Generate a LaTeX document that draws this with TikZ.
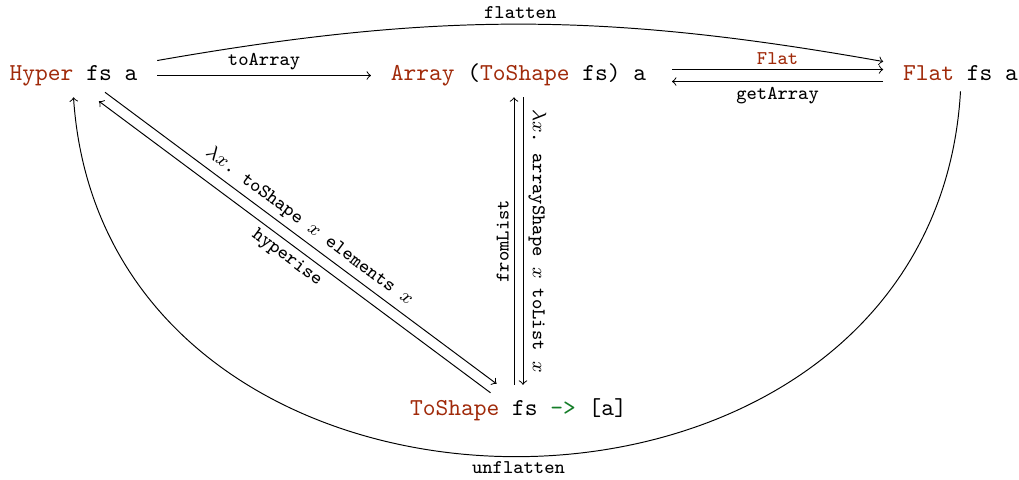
\documentclass[tikz,border=0pt]{standalone}
\definecolor{tycon}{RGB}{160,42,10}
\definecolor{opgreen}{RGB}{20,125,40}
\begin{document}
\begin{tikzpicture}[x=0.4115pt, y=-0.4115pt,
  obj/.style={font=\ttfamily, anchor=base, inner xsep=8pt, inner ysep=4pt,
              text height=7pt, text depth=2.5pt},
  lbl/.style={font=\fontsize{8}{10}\selectfont\ttfamily, inner sep=2pt},
  link/.style={->, line width=0.4pt}]
\useasboundingbox (0,0) rectangle (1019,480);

% objects
\node[obj] (hyp)  at (73.5,81)  {\textcolor{tycon}{Hyper} fs a};
\node[obj] (arry) at (518.5,81) {\textcolor{tycon}{Array} (\textcolor{tycon}{ToShape} fs) a};
\node[obj] (flat) at (960.5,81) {\textcolor{tycon}{Flat} fs a};
\node[obj] (tos)  at (518.5,415) {\textcolor{tycon}{ToShape} fs \textcolor{opgreen}{->} [a]};

% top row
\draw[link] (hyp.east) -- node[lbl, above] {toArray} (arry.west);
\draw[link] ([shift={(0,-15)}]hyp.east) to[bend left=10]
  node[lbl, above] {flatten} ([shift={(0,-14)}]flat.west);
\draw[link] ([shift={(6,-6)}]arry.east) --
  node[lbl, above, text=tycon] {Flat} ([shift={(0,-6)}]flat.west);
\draw[link] ([shift={(0,6)}]flat.west) --
  node[lbl, below] {getArray} ([shift={(6,6)}]arry.east);

% vertical pair
\draw[link] ([shift={(-4.5,-3)}]tos.north) --
  node[lbl, rotate=90, anchor=south] {fromList} ([shift={(-4.5,0)}]arry.south);
\draw[link] ([shift={(4.5,0)}]arry.south) --
  node[lbl, rotate=-90, anchor=south] {$\lambda x$.\ arrayShape $x$ toList $x$}
  ([shift={(4.5,-3)}]tos.north);

% diagonal pair
\draw[link] ([shift={(31.5,-5)}]hyp.south) --
  node[lbl, sloped, above] {$\lambda x$.\ toShape $x$ elements $x$}
  ([shift={(-22,-4)}]tos.north);
\draw[link] ([shift={(-28,5)}]tos.north) --
  node[lbl, sloped, below] {hyperise} ([shift={(25.5,4)}]hyp.south);

% long way round
\draw[link] ([shift={(0,-6)}]flat.south) .. controls +(-28,486) and +(32,480) ..
  node[lbl, below] {unflatten} (hyp.south);
\end{tikzpicture}
\end{document}
